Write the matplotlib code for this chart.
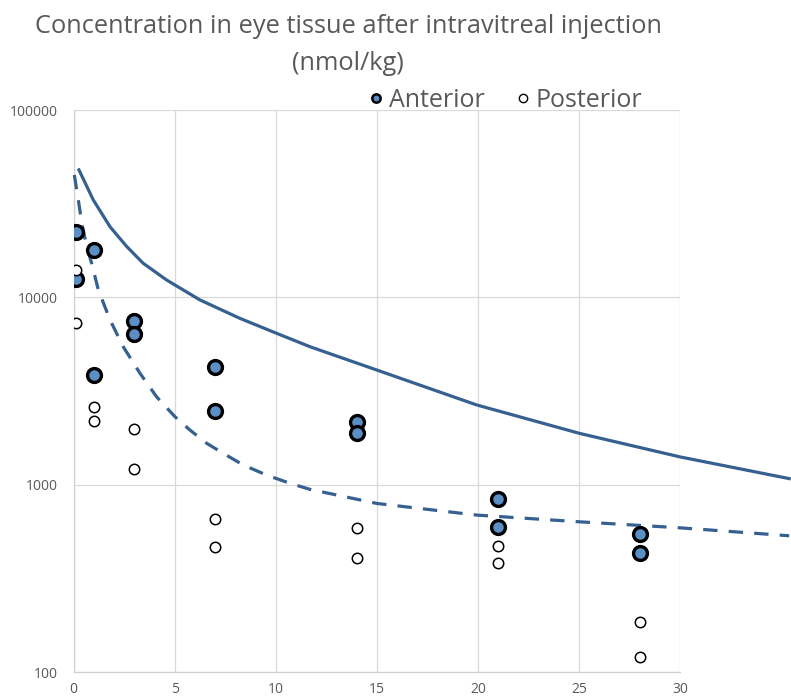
import numpy as np
import matplotlib
matplotlib.use("Agg")
import matplotlib.pyplot as plt
from matplotlib.lines import Line2D

plt.rcParams['font.family'] = ['Open Sans', 'DejaVu Sans']

# measured concentrations (nmol/kg) by day
ant_days = [0.1, 0.1, 1, 1, 3, 3, 7, 7, 14, 14, 21, 21, 28, 28]
ant_conc = [22300, 12500, 17900, 3850, 7480, 6380, 4250, 2480, 2160, 1890, 840, 595, 546, 432]

post_days = [0.1, 0.1, 1, 1, 3, 3, 7, 7, 14, 14, 21, 21, 28, 28]
post_conc = [14000, 7300, 2600, 2190, 1985, 1215, 657, 466, 589, 406, 471, 383, 185, 120]

# model curves
solid_days = [0.27, 0.98, 1.81, 2.63, 3.45, 4.61, 6.26, 8.23, 10.05, 11.7, 15.0, 19.94, 25.05, 30.0, 35.4]
solid_conc = [47900, 33100, 23800, 18700, 15200, 12380, 9690, 7735, 6433, 5457, 4100, 2670, 1880, 1410, 1080]

dash_days = [0.04, 0.24, 0.41, 0.65, 0.90, 1.23, 1.81, 2.46, 3.29, 4.11, 5.02, 5.76, 6.59, 7.41,
             8.40, 9.55, 10.71, 11.7, 15.0, 19.94, 25.05, 30.0, 35.4]
dash_conc = [45000, 33100, 24900, 18700, 15200, 10950, 7575, 5457, 3936, 2950, 2309, 1961, 1666, 1473,
             1276, 1128, 1019, 946, 796, 690, 635, 590, 535]

line_col = '#35608f'
grey_txt = '#595959'

fig = plt.figure(figsize=(7.91, 7.00), dpi=100)
ax = fig.add_axes([73.5 / 791, 1 - 672.3 / 700, (680 - 73.5) / 791, (672.3 - 110) / 700])

ax.plot(solid_days, solid_conc, color=line_col, lw=2.3, clip_on=False, zorder=3)
ax.plot(dash_days, dash_conc, color=line_col, lw=2.3, ls=(0, (4.5, 3.5)), clip_on=False, zorder=3)

ax.plot(ant_days, ant_conc, ls='none', marker='o', ms=10, mfc='#5b8ec4', mec='black', mew=2.4,
        zorder=4, label='Anterior')
ax.plot(post_days, post_conc, ls='none', marker='o', ms=7.5, mfc='white', mec='black', mew=1.1,
        zorder=4, label='Posterior')

ax.set_yscale('log')
ax.set_xlim(0, 30)
ax.set_ylim(100, 100000)
ax.set_xticks([0, 5, 10, 15, 20, 25, 30])
ax.set_yticks([100, 1000, 10000, 100000])
ax.set_yticklabels(['100', '1000', '10000', '100000'])
ax.yaxis.set_minor_locator(matplotlib.ticker.NullLocator())
ax.tick_params(length=0, labelsize=10, colors=grey_txt)
ax.tick_params(axis='x', pad=7)
ax.tick_params(axis='y', pad=11)
ax.grid(True, color='#d9d9d9', lw=0.9)
ax.set_axisbelow(True)
for s in ['top', 'right']:
    ax.spines[s].set_visible(False)
for s in ['left', 'bottom']:
    ax.spines[s].set_color('#d0d0d0')
    ax.spines[s].set_linewidth(0.9)

fig.text(0.440, 0.962, 'Concentration in eye tissue after intravitreal injection',
         ha='center', va='center', fontsize=18.3, color=grey_txt)
fig.text(0.440, 0.910, '(nmol/kg)', ha='center', va='center', fontsize=18.3, color=grey_txt)

h = [Line2D([], [], ls='none', marker='o', ms=6, mfc='#5b8ec4', mec='black', mew=1.8),
     Line2D([], [], ls='none', marker='o', ms=6, mfc='white', mec='black', mew=1.0)]
fig.legend(h, ['Anterior', 'Posterior'], loc='center', bbox_to_anchor=(0.639, 0.857), ncol=2,
           frameon=False, fontsize=18, labelcolor=grey_txt, handlelength=0.6,
           handletextpad=0.2, columnspacing=1.26)

fig.savefig('out.png', dpi=100)
